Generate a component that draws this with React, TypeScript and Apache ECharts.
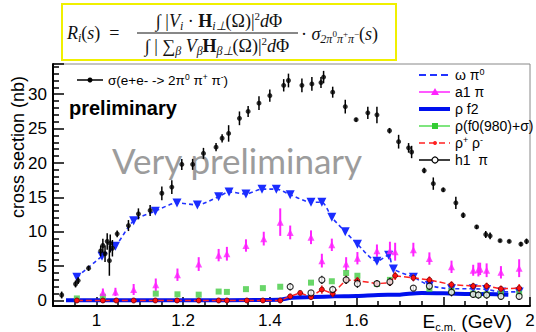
import React, { useEffect, useRef } from 'react';
import * as echarts from 'echarts';

// ---------------- data ----------------
const sigmaE = [0.92, 0.952, 0.958, 0.982, 1.01, 1.015, 1.02, 1.025, 1.03, 1.032, 1.037, 1.048, 1.074, 1.097, 1.124, 1.151, 1.174, 1.197, 1.222, 1.247, 1.276, 1.29, 1.305, 1.33, 1.35, 1.375, 1.4, 1.432, 1.443, 1.474, 1.497, 1.518, 1.524, 1.545, 1.574, 1.599, 1.626, 1.647, 1.676, 1.697, 1.72, 1.727, 1.756, 1.777, 1.8, 1.829, 1.846, 1.877, 1.898, 1.908, 1.931, 1.952, 1.979, 1.992];
const sigmaV = [0.8, 2.4, 2.9, 4.7, 7.2, 8.0, 6.8, 8.6, 5.8, 8.3, 7.6, 9.7, 10.9, 12.6, 13.1, 15.6, 16.5, 19.8, 19.8, 21.4, 22.3, 23.6, 24.3, 26.5, 27.5, 28.7, 29.8, 31.3, 32.0, 31.3, 31.5, 31.7, 32.5, 30.3, 28.2, 26.3, 27.3, 27.0, 24.7, 23.1, 22.2, 21.6, 18.9, 17.0, 16.1, 14.2, 12.4, 10.7, 9.6, 9.4, 8.7, 8.6, 8.2, 8.6];
const sigmaErr = [0.5, 0.5, 0.5, 0.4, 0.8, 1.0, 1.2, 1.2, 2.2, 1.3, 1.2, 0.5, 0.8, 0.8, 0.8, 1.0, 1.0, 0.8, 0.8, 0.8, 0.6, 0.6, 1.2, 1.0, 0.8, 1.0, 0.9, 0.9, 1.0, 1.0, 1.0, 0.8, 0.9, 0.8, 1.0, 0.3, 0.9, 1.2, 0.4, 1.0, 0.7, 0.9, 0.4, 0.9, 0.3, 0.9, 0.4, 0.3, 0.5, 0.5, 0.2, 0.2, 0.3, 0.4];

const omegaE = [0.955, 1.013, 1.044, 1.086, 1.136, 1.186, 1.233, 1.282, 1.306, 1.345, 1.382, 1.415, 1.447, 1.495, 1.52, 1.543, 1.574, 1.602, 1.647, 1.674, 1.685, 1.731, 1.768, 1.819, 1.869, 1.9, 1.935, 1.975];
const omegaV = [3.4, 6.45, 7.9, 11.6, 13.0, 14.2, 13.9, 15.1, 15.8, 15.5, 16.2, 16.2, 15.4, 14.3, 14.3, 12.1, 10.0, 8.2, 5.7, 6.6, 4.6, 3.4, 2.2, 1.7, 1.7, 1.6, 1.25, 1.25];

const a1E = [1.015, 1.044, 1.086, 1.137, 1.187, 1.236, 1.282, 1.301, 1.345, 1.386, 1.424, 1.447, 1.495, 1.52, 1.543, 1.576, 1.602, 1.647, 1.677, 1.689, 1.731, 1.768, 1.819, 1.869, 1.881, 1.885, 1.9, 1.933, 1.975];
const a1V = [1.15, 1.25, 1.6, 2.3, 3.75, 5.3, 6.6, 6.8, 8.0, 9.0, 11.4, 9.9, 9.2, 5.8, 8.1, 5.3, 6.15, 7.25, 7.25, 7.1, 7.4, 6.1, 4.9, 4.4, 4.5, 4.6, 4.4, 4.1, 4.7];
const a1Err = [0.6, 0.6, 0.8, 0.9, 0.9, 1.0, 0.9, 1.0, 0.9, 1.0, 2.0, 1.0, 1.0, 1.0, 0.9, 1.0, 0.9, 0.9, 1.3, 1.3, 1.0, 0.9, 0.9, 0.8, 1.0, 0.9, 1.0, 0.9, 1.3];

const rhoF2E = [0.93, 1.0, 1.1, 1.2, 1.3, 1.42, 1.45, 1.5, 1.55, 1.6, 1.65, 1.7, 1.75, 1.8, 1.85, 1.9, 1.95];
const rhoF2V = [0.05, 0.05, 0.05, 0.05, 0.05, 0.1, 0.4, 0.5, 0.6, 0.65, 0.8, 0.85, 1.1, 1.05, 0.95, 0.95, 0.85];

const rhoF0E = [0.955, 1.015, 1.137, 1.187, 1.236, 1.282, 1.301, 1.345, 1.384, 1.424, 1.495, 1.543, 1.576, 1.602, 1.647, 1.677, 1.768, 1.819, 1.869, 1.881, 1.9, 1.933, 1.975];
const rhoF0V = [0.3, 0.55, 1.0, 0.9, 0.85, 1.3, 1.25, 1.65, 1.8, 2.0, 2.6, 2.8, 4.0, 3.6, 2.4, 3.0, 1.7, 1.4, 1.0, 0.8, 0.9, 1.0, 1.0];

const rhoPMe = [0.955, 1.015, 1.046, 1.086, 1.136, 1.186, 1.236, 1.282, 1.301, 1.347, 1.384, 1.424, 1.447, 1.47, 1.495, 1.52, 1.545, 1.576, 1.602, 1.647, 1.677, 1.689, 1.731, 1.768, 1.819, 1.869, 1.9, 1.933, 1.975];
const rhoPMv = [0, 0, 0, 0, 0, 0, 0, 0, 0, 0, 0, 0, 0.6, 1.1, 0.5, 1.6, 1.0, 3.0, 2.9, 2.45, 2.6, 3.6, 3.3, 3.0, 2.3, 2.1, 2.1, 1.7, 1.8];
const rhoPMerr = [0, 0, 0, 0, 0, 0, 0, 0, 0, 0, 0, 0, 0.3, 0.3, 0.3, 0.6, 0.5, 0.6, 0.5, 0.5, 0.5, 0.6, 0.5, 0.5, 0.5, 0.5, 0.5, 0.5, 0.6];

const h1E = [1.447, 1.495, 1.52, 1.545, 1.576, 1.602, 1.647, 1.677, 1.731, 1.768, 1.819, 1.869, 1.881, 1.9, 1.933, 1.975];
const h1V = [2.0, 1.1, 3.0, 1.6, 3.0, 2.45, 2.45, 2.7, 1.8, 2.1, 1.2, 0.9, 0.8, 0.8, 0.6, 0.6];
const h1Err = [0.5, 0.4, 0.6, 0.4, 0.6, 0.6, 0.5, 0.6, 0.4, 0.5, 0.6, 0.5, 0.5, 0.5, 0.5, 0.5];

const xTickLabels = ['1', '1.2', '1.4', '1.6', '2'];
const yTickLabels = ['0', '5', '10', '15', '20', '25', '30'];

const SANS = 'Liberation Sans';
const SERIF = 'Liberation Serif';

function pairs(xs: number[], ys: number[]) {
  return xs.map((x, i) => [x, ys[i]]);
}

function errorSeries(xs: number[], ys: number[], errs: number[], color: string, width: number, z: number) {
  return {
    type: 'custom',
    z,
    silent: true,
    renderItem: (_p: any, api: any) => {
      const x = api.value(0);
      const y = api.value(1);
      const e = api.value(2);
      if (!e) return null;
      const a = api.coord([x, y - e]);
      const b = api.coord([x, y + e]);
      return {
        type: 'line',
        shape: { x1: a[0], y1: a[1], x2: b[0], y2: b[1] },
        style: { stroke: color, lineWidth: width },
      };
    },
    encode: { x: 0, y: 1 },
    data: xs.map((x, i) => [x, ys[i], errs[i]]),
  };
}

const FS = 18;
const mathRich = {
  n: { fontFamily: SERIF, fontSize: FS, lineHeight: 22, fill: '#111' },
  it: { fontFamily: SERIF, fontSize: FS, fontStyle: 'italic', lineHeight: 22, fill: '#111' },
  b: { fontFamily: SERIF, fontSize: FS, fontWeight: 'bold', lineHeight: 22, fill: '#111' },
  sb: { fontFamily: SERIF, fontSize: 12, fontStyle: 'italic', lineHeight: 12, verticalAlign: 'bottom', fill: '#111' },
  sp: { fontFamily: SERIF, fontSize: 11, lineHeight: 11, verticalAlign: 'top', fill: '#111' },
  ss: { fontFamily: SERIF, fontSize: 9, lineHeight: 9, verticalAlign: 'middle', fill: '#111' },
};

const legendRich = {
  t: { fontFamily: SANS, fontSize: 14, lineHeight: 16, fill: '#000' },
  sp: { fontFamily: SANS, fontSize: 9, lineHeight: 9, verticalAlign: 'top', fill: '#000' },
};

function legendEntry(y: number, label: string, line: any, marker: any) {
  const els: any[] = [
    { type: 'line', shape: { x1: 419, y1: y, x2: 450, y2: y }, style: line },
  ];
  if (marker) els.push(marker);
  els.push({
    type: 'text',
    x: 455,
    y,
    style: { text: label, rich: legendRich, verticalAlign: 'middle', textAlign: 'left' },
  });
  return els;
}

export default function App() {
  const ref = useRef<HTMLDivElement>(null);
  useEffect(() => {
    if (!ref.current) return;
    const chart = echarts.init(ref.current, null, { renderer: 'svg' });

    const graphics: any[] = [
      // formula box
      { type: 'rect', shape: { x: 62, y: 4, width: 334, height: 56 }, style: { fill: '#fff', stroke: '#f0f000', lineWidth: 2 }, z: 10 },
      { type: 'text', x: 67, y: 33, z: 11, style: { text: '{it|R}{sb|i}{n|(}{it|s}{n|)  =}', rich: mathRich, verticalAlign: 'middle' } },
      { type: 'line', shape: { x1: 137, y1: 33, x2: 298, y2: 33 }, style: { stroke: '#111', lineWidth: 1 }, z: 11 },
      { type: 'text', x: 219, y: 21, z: 11, style: { text: '{n|∫ |}{it|V}{sb|i}{n| · }{b|H}{sb|i⊥}{n|(Ω)|}{sp|2}{it|d}{n|Φ}', rich: mathRich, textAlign: 'center', verticalAlign: 'middle' } },
      { type: 'text', x: 217, y: 46, z: 11, style: { text: '{n|∫ | ∑}{sb|β}{n| }{it|V}{sb|β}{b|H}{sb|β⊥}{n|(Ω)|}{sp|2}{it|d}{n|Φ}', rich: mathRich, textAlign: 'center', verticalAlign: 'middle' } },
      { type: 'text', x: 301, y: 34, z: 11, style: { text: '{n|· }{it|σ}{sb|2π}{ss|0}{sb|π}{ss|+}{sb|π}{ss|−}{n|(}{it|s}{n|)}', rich: mathRich, verticalAlign: 'middle' } },
      // left legend
      { type: 'line', shape: { x1: 77, y1: 80, x2: 103, y2: 80 }, style: { stroke: '#000', lineWidth: 1.5 } },
      { type: 'circle', shape: { cx: 90, cy: 80, r: 2.5 }, style: { fill: '#000' } },
      { type: 'text', x: 108, y: 80, style: { text: '{t|σ(e+e- -> 2π}{sp|0}{t| π}{sp|+}{t| π}{sp|-}{t|)}', rich: { t: { fontFamily: SANS, fontSize: 13.5, lineHeight: 15, fill: '#000' }, sp: { fontFamily: SANS, fontSize: 8.5, lineHeight: 8, verticalAlign: 'top', fill: '#000' } }, verticalAlign: 'middle' } },
      // preliminary
      { type: 'text', x: 69, y: 108, style: { text: 'preliminary', fontFamily: SANS, fontSize: 20, fontWeight: 'bold', fill: '#000', verticalAlign: 'middle' } },
      { type: 'text', x: 112, y: 160, z: 1, style: { text: 'Very preliminary', fontFamily: 'Lato', fontSize: 35, fill: '#9c9c9c', verticalAlign: 'middle' } },
      // axis titles
      { type: 'text', x: 18, y: 147, rotation: Math.PI / 2, style: { text: 'cross section (nb)', fontFamily: SANS, fontSize: 18, fill: '#000', textAlign: 'center', verticalAlign: 'middle' } },
      { type: 'text', x: 512, y: 321, style: { text: '{a|E}{s|c.m.}{a| (GeV)}', rich: { a: { fontFamily: SANS, fontSize: 19, lineHeight: 22, fill: '#000' }, s: { fontFamily: SANS, fontSize: 11, lineHeight: 11, verticalAlign: 'bottom', fill: '#000' } }, textAlign: 'right', verticalAlign: 'middle' } },
      // right legend
      ...legendEntry(75, '{t|ω π}{sp|0}', { stroke: '#2233ff', lineWidth: 2, lineDash: [7, 4] }, null),
      ...legendEntry(92, '{t|a1 π}', { stroke: '#ff22ff', lineWidth: 1.5 }, { type: 'polygon', shape: { points: [[435, 88], [439, 95], [431, 95]] }, style: { fill: '#ff22ff' } }),
      ...legendEntry(109, '{t|ρ f2}', { stroke: '#0010ee', lineWidth: 4 }, null),
      ...legendEntry(126, '{t|ρ(f0(980)+σ)}', { stroke: '#55dd55', lineWidth: 1.5 }, { type: 'rect', shape: { x: 432, y: 123, width: 6, height: 6 }, style: { fill: '#33cc33' } }),
      ...legendEntry(143, '{t|ρ}{sp|+}{t| ρ}{sp|-}', { stroke: '#ff2222', lineWidth: 1.5, lineDash: [6, 4] }, { type: 'circle', shape: { cx: 435, cy: 143, r: 2 }, style: { fill: '#ff2222' } }),
      ...legendEntry(160, '{t|h1  π}', { stroke: '#000', lineWidth: 1.5 }, { type: 'circle', shape: { cx: 435, cy: 160, r: 3 }, style: { fill: '#fff', stroke: '#000', lineWidth: 1.2 } }),
    ];

    const option: any = {
      animation: false,
      grid: { left: 53, right: 6, top: 64, bottom: 26, show: true, borderColor: '#888', borderWidth: 1, containLabel: false, outerBoundsMode: 'none' },
      xAxis: {
        type: 'value', min: 0.9, max: 2.0, splitNumber: 5,
        axisLine: { show: true, onZero: false, lineStyle: { color: '#000', width: 2 } },
        axisTick: { show: true, inside: true, length: 9, lineStyle: { color: '#000', width: 1.5 } },
        minorTick: { show: true, splitNumber: 4, length: 5, lineStyle: { color: '#000', width: 1.5 } },
        splitLine: { show: false },
        axisLabel: {
          color: '#000', fontFamily: SANS, fontSize: 17, margin: 6,
          formatter: (v: number) => {
            const s = String(Math.round(v * 10) / 10);
            return xTickLabels.indexOf(s) >= 0 ? s : '';
          },
        },
      },
      yAxis: {
        type: 'value', min: -0.8, max: 34.4, splitNumber: 7,
        axisLine: { show: true, onZero: false, lineStyle: { color: '#000', width: 2 } },
        axisTick: { show: true, inside: true, length: 11, lineStyle: { color: '#000', width: 1.5 } },
        minorTick: { show: true, splitNumber: 5, length: 6, lineStyle: { color: '#000', width: 1.5 } },
        splitLine: { show: false },
        axisLabel: {
          color: '#000', fontFamily: SANS, fontSize: 17, margin: 6,
          formatter: (v: number) => {
            const s = String(Math.round(v * 100) / 100);
            return yTickLabels.indexOf(s) >= 0 ? s : '';
          },
        },
      },
      graphic: graphics,
      series: [
        {
          type: 'line', data: pairs(rhoF2E, rhoF2V), showSymbol: false, smooth: 0.3, z: 2,
          lineStyle: { color: '#0010ee', width: 4 }, silent: true,
        },
        {
          type: 'line', data: pairs(omegaE, omegaV), symbol: 'triangle', symbolRotate: 180, symbolSize: 9, smooth: 0.25, z: 4,
          itemStyle: { color: '#1a2cff' }, lineStyle: { color: '#2233ff', width: 1.6, type: [4, 3] },
        },
        errorSeries(a1E, a1V, a1Err, '#ff22ff', 2, 4),
        {
          type: 'scatter', data: pairs(a1E, a1V), symbol: 'triangle', symbolSize: 7, z: 5,
          itemStyle: { color: '#ff22ff' },
        },
        {
          type: 'scatter', data: pairs(rhoF0E, rhoF0V), symbol: 'rect', symbolSize: 6, z: 4,
          itemStyle: { color: '#44cc44' },
        },
        errorSeries(rhoPMe, rhoPMv, rhoPMerr, '#ff2222', 1.5, 5),
        {
          type: 'line', data: pairs(rhoPMe, rhoPMv), symbol: 'circle', symbolSize: 5, z: 5,
          itemStyle: { color: '#ff1111', borderColor: '#660000', borderWidth: 0.8 },
          lineStyle: { color: '#ff2222', width: 1.5, type: [6, 3] },
        },
        errorSeries(h1E, h1V, h1Err, '#000', 1.2, 6),
        {
          type: 'scatter', data: pairs(h1E, h1V), symbol: 'circle', symbolSize: 6, z: 6,
          itemStyle: { color: '#fff', borderColor: '#000', borderWidth: 1.2 },
        },
        errorSeries(sigmaE, sigmaV, sigmaErr, '#000', 1.5, 7),
        {
          type: 'scatter', data: pairs(sigmaE, sigmaV), symbol: 'circle', symbolSize: 5, z: 8,
          itemStyle: { color: '#000' },
        },
      ],
    };
    chart.setOption(option);
    return () => chart.dispose();
  }, []);
  return <div ref={ref} style={{ position: 'fixed', left: 0, top: 0, width: 536, height: 332, background: '#fff' }} />;
}
